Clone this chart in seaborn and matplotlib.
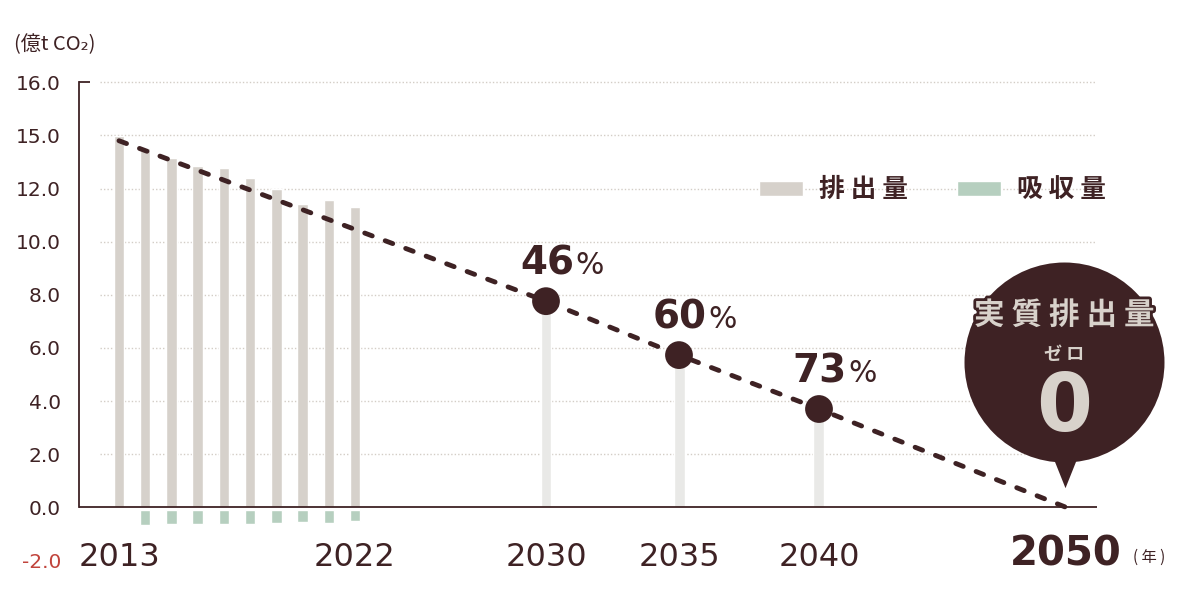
import matplotlib
matplotlib.use("Agg")
import matplotlib.pyplot as plt
import matplotlib.patheffects as pe
from matplotlib import transforms
from matplotlib.patches import Patch
import numpy as np
import seaborn as sns

# 実績 (億t CO2)
years_actual = [2013, 2014, 2015, 2016, 2017, 2018, 2019, 2020, 2021, 2022]
emissions = [13.98, 13.53, 13.15, 12.85, 12.78, 12.40, 11.98, 11.42, 11.57, 11.31]
absorb_years = [2014, 2015, 2016, 2017, 2018, 2019, 2020, 2021, 2022]
absorption = [0.58, 0.53, 0.53, 0.53, 0.53, 0.48, 0.45, 0.48, 0.43]

# 目標
target_years = [2030, 2035, 2040]
target_values = [7.76, 5.73, 3.70]
target_labels = ["46", "60", "73"]
path_years = [2013, 2030, 2035, 2040, 2050]
path_values = [13.8, 7.76, 5.73, 3.70, 0.0]

xtick_years = [2013, 2022, 2030, 2035, 2040, 2050]
ytick_values = [-2, 0, 2, 4, 6, 8, 10, 12, 14, 16]
ytick_labels = ["-2.0", "0.0", "2.0", "4.0", "6.0", "8.0", "10.0", "12.0", "15.0", "16.0"]

DARK = "#3e2224"
EMIT = "#d6d1cb"
ABSORB = "#b6cfbf"
TARGET = "#e9e9e7"
GRID = "#d3cdc6"
RED = "#c1443c"
BEIGE = "#d8d2cb"
CJK = ["Noto Sans CJK JP", "DejaVu Sans"]

sns.set_theme(style="white")
plt.rcParams["font.family"] = ["DejaVu Sans", "Noto Sans CJK JP"]

# the year axis is not evenly spaced in the original: piecewise-linear scale
knot_years = np.array([1900, 2013, 2022, 2030, 2035, 2040, 2050, 2200], dtype=float)
knot_px = np.array([119 - 113 * 26.2, 119, 355, 546, 679, 819, 1066, 1066 + 150 * 24.7])


def fwd(x):
    return np.interp(x, knot_years, knot_px)


def inv(p):
    return np.interp(p, knot_px, knot_years)


W, H = 1194, 593
fig = plt.figure(figsize=(W / 100, H / 100), dpi=100)
ax_bottom = 507.3 + 2.2 * 26.56
ax_top = 82.3 - 0.2 * 26.56
ax = fig.add_axes([79 / W, 1 - ax_bottom / H, (1097 - 79) / W, (ax_bottom - ax_top) / H])
ax.set_xscale("function", functions=(fwd, inv))
ax.set_xlim(inv(79), inv(1097))
ax.set_ylim(-2.2, 16.2)

# grid
for yv in ytick_values[2:]:
    ax.axhline(yv, xmin=21 / 1018, xmax=1, color=GRID, lw=1, linestyle=(0, (1, 1.5)), zorder=0)

ax.bar(years_actual, emissions, width=0.4, color=EMIT, zorder=2)
ax.bar(absorb_years, [-a for a in absorption], bottom=-0.1, width=0.4, color=ABSORB, zorder=2)
ax.bar(target_years, target_values, width=0.4, color=TARGET, zorder=2)

ax.axhline(0, color=DARK, lw=1.3, zorder=2.5)
ax.plot([0, 11 / 1018], [16, 16], transform=ax.get_yaxis_transform(), color=DARK, lw=1.3,
        solid_capstyle="butt", clip_on=False)

sns.lineplot(x=path_years, y=path_values, ax=ax, color=DARK, lw=3.5,
             linestyle=(0, (1.65, 2.85)), dash_capstyle="round", zorder=3)
sns.scatterplot(x=target_years, y=target_values, ax=ax, s=400, color=DARK,
                edgecolor="none", zorder=4, legend=False)

for yr, v, lab in zip(target_years, target_values, target_labels):
    ax.annotate(lab, (yr, v), xytext=(28, 27), textcoords="offset pixels", ha="right",
                va="baseline", fontsize=28, fontweight="bold", color=DARK, zorder=6)
    ax.annotate("%", (yr, v), xytext=(29, 27), textcoords="offset pixels", ha="left",
                va="baseline", fontsize=21.5, color=DARK, zorder=6)

# 2050 balloon
end_year, end_val = path_years[-1], path_values[-1]
circle_tr = transforms.offset_copy(ax.transData, fig=fig, x=-2, y=145, units="dots")
ax.plot([end_year], [end_val], transform=circle_tr, marker="o", ms=144, color=DARK,
        mec="none", zorder=5, clip_on=False)
tri_tr = transforms.offset_copy(ax.transData, fig=fig, x=-1, y=36, units="dots")
ax.plot([end_year], [end_val], transform=tri_tr, marker=[(-0.4, 0.5), (0.4, 0.5), (0, -0.5)],
        ms=24, color=DARK, mec="none", zorder=5, clip_on=False)
ax.annotate("実 質 排 出 量", (end_year, end_val), xytext=(-2, 183), textcoords="offset pixels",
            ha="center", va="baseline", fontsize=22, fontweight="bold", color=BEIGE,
            family=CJK, zorder=7, annotation_clip=False,
            path_effects=[pe.withStroke(linewidth=4, foreground=DARK)])
ax.annotate("ゼ ロ", (end_year, end_val), xytext=(-2, 147), textcoords="offset pixels",
            ha="center", va="baseline", fontsize=13, fontweight="bold", color=BEIGE,
            family=CJK, zorder=7, annotation_clip=False)
ax.annotate("0", (end_year, end_val), xytext=(-2, 76), textcoords="offset pixels",
            ha="center", va="baseline", fontsize=58, fontweight="bold", color=BEIGE, zorder=7,
            annotation_clip=False)

# axes
for side in ["top", "right", "bottom"]:
    ax.spines[side].set_visible(False)
ax.spines["left"].set_bounds(0, 16)
ax.spines["left"].set_color(DARK)
ax.spines["left"].set_linewidth(1.3)

ax.set_yticks(ytick_values)
ax.set_yticklabels(ytick_labels)
ax.tick_params(axis="y", length=0, pad=13, labelsize=14.5, labelcolor=DARK)
ax.get_yticklabels()[0].set_color(RED)

ax.set_xticks(xtick_years)
ax.set_xticklabels([str(y) for y in xtick_years])
ax.xaxis.set_minor_locator(matplotlib.ticker.NullLocator())
ax.tick_params(axis="x", length=0, pad=0, labelsize=23, labelcolor=DARK)
for lbl in ax.get_xticklabels():
    lbl.set_verticalalignment("baseline")
last = ax.get_xticklabels()[-1]
last.set_fontsize(29)
last.set_fontweight("bold")

fig.text(14 / W, 1 - 45 / H, "(億t CO₂)", va="center", ha="left", fontsize=14.5,
         color=DARK, family=CJK)
fig.text(1133 / W, 1 - 562 / H, "( 年 )", va="baseline", ha="left", fontsize=11,
         color=DARK, family=CJK)

handles = [Patch(facecolor=EMIT), Patch(facecolor=ABSORB)]
ax.legend(handles, ["排 出 量", "吸 収 量"], loc="center left",
          bbox_to_anchor=(759 / W, 1 - 190 / H), bbox_transform=fig.transFigure,
          ncol=2, frameon=False, borderpad=0, borderaxespad=0,
          handlelength=1.71, handleheight=0.5, handletextpad=0.62, columnspacing=1.9,
          labelcolor=DARK, prop={"family": CJK, "weight": "bold", "size": 18.5})

fig.savefig("out.png", dpi=100)
